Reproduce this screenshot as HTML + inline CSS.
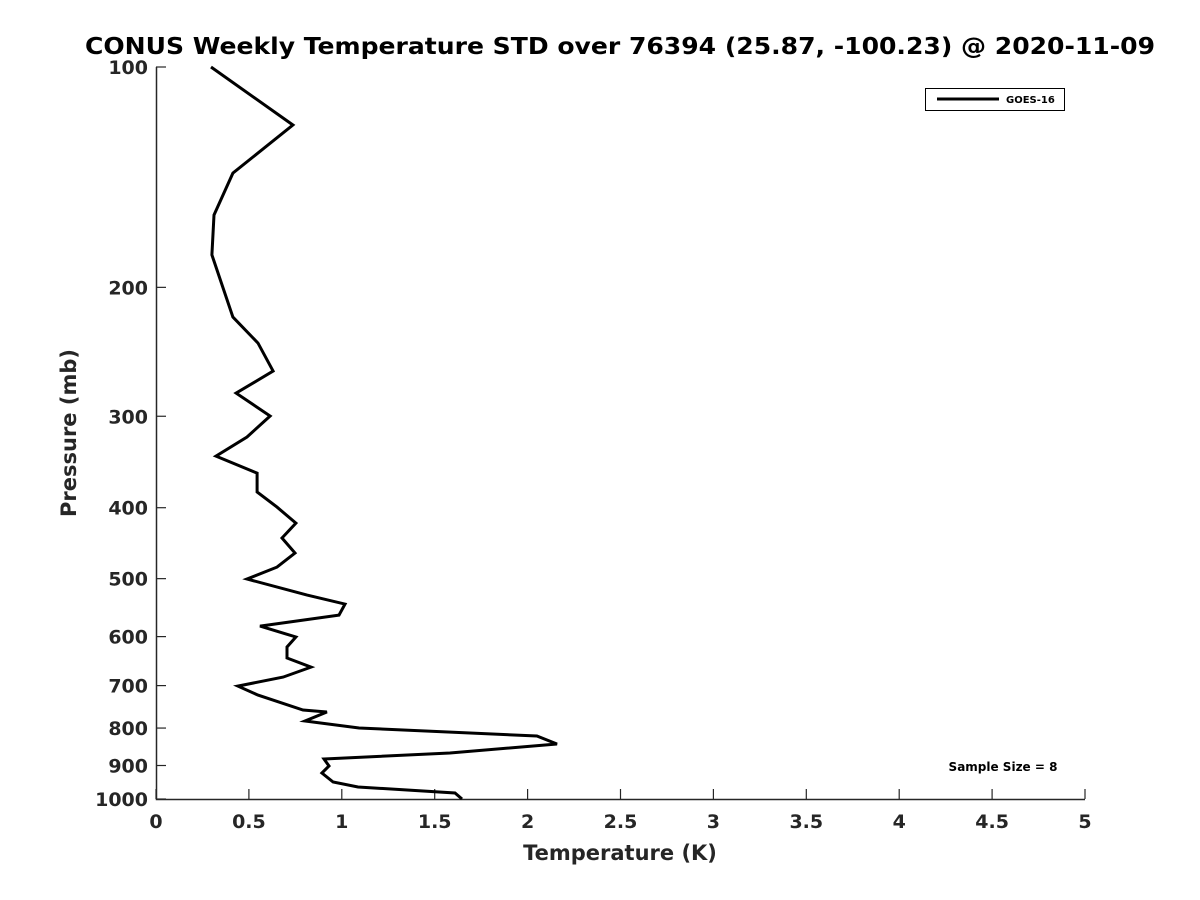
<!DOCTYPE html>
<html><head><meta charset="utf-8"><style>
html,body{margin:0;padding:0;background:#fff;}
svg{display:block;font-family:"DejaVu Sans","Liberation Sans",sans-serif;font-weight:bold;}
</style></head><body>
<svg id="chart" width="1200" height="900" viewBox="0 0 1200 900">
<text x="620" y="54" text-anchor="middle" font-size="23" fill="#000" textLength="1070" lengthAdjust="spacingAndGlyphs">CONUS Weekly Temperature STD over 76394 (25.87, -100.23) @ 2020-11-09</text>
<g id="axes"></g>
<g id="series"></g>
<g>
<rect x="925.5" y="88.5" width="139" height="22" fill="#fff" stroke="#000" stroke-width="1"/>
<line x1="937" y1="99" x2="999" y2="99" stroke="#000" stroke-width="3"/>
<text x="1006" y="103" font-size="10" fill="#000">GOES-16</text>
</g>
<text x="1003" y="771" text-anchor="middle" font-size="12" fill="#000">Sample Size = 8</text>
<text x="620" y="860" text-anchor="middle" font-size="21" fill="#262626">Temperature (K)</text>
<text transform="translate(76,433) rotate(-90)" text-anchor="middle" font-size="21" fill="#262626">Pressure (mb)</text>
</svg>
<script>
const pressure=[100,120,139.6,159.3,180.6,219.6,238.3,260.3,278.9,299.8,320.2,340.1,358.7,380.7,399.2,419.8,440,461.3,482.2,500.6,526.6,541.7,560.7,580.5,600.8,620,641.8,660.3,681.5,701,721.1,755.8,760.6,782.4,799.8,820.2,841.2,865.3,881.8,901.4,921.4,948,963,981.3,1000];
const tempStd=[0.296,0.737,0.414,0.312,0.301,0.414,0.549,0.63,0.431,0.614,0.49,0.323,0.544,0.544,0.651,0.753,0.678,0.748,0.651,0.49,0.813,1.017,0.985,0.56,0.753,0.705,0.705,0.834,0.684,0.441,0.549,0.791,0.92,0.802,1.093,2.05,2.158,1.582,0.904,0.931,0.893,0.953,1.087,1.609,1.647];
const xTicks=[0,0.5,1,1.5,2,2.5,3,3.5,4,4.5,5];
const xTickLabels=["0","0.5","1","1.5","2","2.5","3","3.5","4","4.5","5"];
const yTicks=[100,200,300,400,500,600,700,800,900,1000];
const yTickLabels=["100","200","300","400","500","600","700","800","900","1000"];
const NS="http://www.w3.org/2000/svg";
const L=156,R=1085,T=67,B=799;
function xs(v){return L+(v-0)/(5-0)*(R-L);}
function ys(p){return T+(Math.log10(p)-2)/(3-2)*(B-T);}
function mk(tag,attrs,parent){const e=document.createElementNS(NS,tag);for(const k in attrs)e.setAttribute(k,attrs[k]);parent.appendChild(e);return e;}
const axes=document.getElementById('axes');
let a=mk('path',{d:`M${L+0.5},${T} V${B+0.5} H${R}`,fill:'none',stroke:'#262626','stroke-width':1.5},axes);


xTicks.forEach((v,i)=>{
 const x=xs(v);
 const t=mk('line',{x1:x,y1:B,x2:x,y2:B-10,stroke:'#262626','stroke-width':1.2},axes);
 
 
 const l=mk('text',{x:x,y:B+29,'text-anchor':'middle','font-size':19,fill:'#262626'},axes);
 l.textContent=xTickLabels[i];
 
 
});
yTicks.forEach((v,i)=>{
 const y=ys(v);
 const t=mk('line',{x1:L,y1:y,x2:L+10,y2:y,stroke:'#262626','stroke-width':1.2},axes);
 
 
 const l=mk('text',{x:L-8,y:y+7,'text-anchor':'end','font-size':19,fill:'#262626'},axes);
 l.textContent=yTickLabels[i];
 
 
});
const pts=pressure.map((p,i)=>xs(tempStd[i]).toFixed(1)+','+ys(p).toFixed(1)).join(' ');
const line=mk('polyline',{points:pts,fill:'none',stroke:'#000','stroke-width':3,'stroke-linejoin':'miter'},document.getElementById('series'));


</script>
</body></html>
